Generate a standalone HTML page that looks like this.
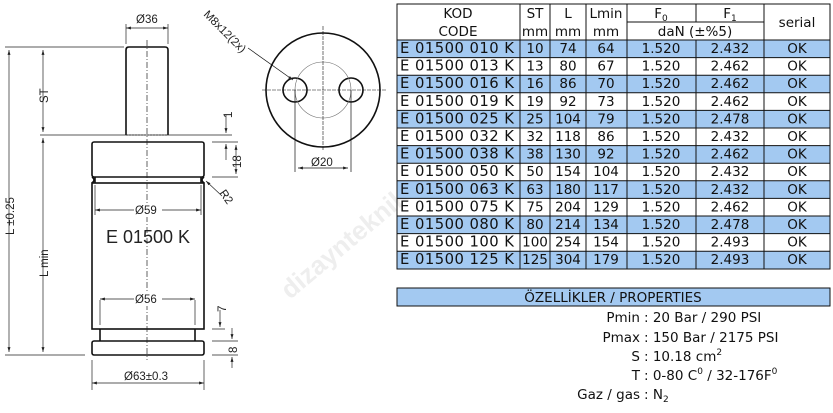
<!DOCTYPE html>
<html><head><meta charset="utf-8"><style>
html,body{margin:0;padding:0;background:#fff;width:833px;height:413px;overflow:hidden}
svg{display:block}
.t{font-family:"DejaVu Sans","Liberation Sans",sans-serif;font-size:13.5px;fill:#111}
.d{font-family:"Liberation Sans",sans-serif;font-size:11.5px;fill:#222}
.c{font-size:14.8px}
</style></head><body>
<svg width="833" height="413" viewBox="0 0 833 413" xmlns="http://www.w3.org/2000/svg">
<defs>
<marker id="a" viewBox="0 0 10 10" refX="10" refY="5" markerWidth="7" markerHeight="7" orient="auto-start-reverse"><path d="M0,2 L10,5 L0,8z" fill="#222"/></marker>
</defs>
<text x="290" y="300" transform="rotate(-40 290 300)" font-family="Liberation Sans,sans-serif" font-size="26" font-weight="bold" fill="#eee">dizaynteknik</text>

<g stroke="#111" fill="none" stroke-width="1.6">
<path d="M126,135 V50 q0,-3 3,-3 H165 q3,0 3,3 V135"/>
<rect x="92" y="142" width="112" height="35" rx="2"/>
<path d="M92,177 q4,3 0,6 M204,177 q-4,3 0,6"/>
<path d="M95,177 V183 M201,177 V183"/>
<rect x="92" y="183" width="112" height="146"/>
<path d="M100,329 V341 M195,329 V341"/>
<rect x="92" y="341" width="112" height="14" rx="2"/>
</g>
<g stroke="#222" stroke-width="0.7" fill="none">
<path d="M147,40 V360" stroke-dasharray="6,2,1,2"/>
<path d="M126,135 H168" stroke-dasharray="2,1"/>
<path d="M5,47 H124 M40,135 H232 M5,355 H85 M212,142 H238 M212,177 H238 M212,329 H225 M212,341 H238 M212,355 H238"/>
<path d="M126,24 V44 M168,24 V44 M92,360 V390 M204,360 V390"/>
<path d="M9,50 V352" marker-start="url(#a)" marker-end="url(#a)"/>
<path d="M43,50 V132" marker-start="url(#a)" marker-end="url(#a)"/>
<path d="M43,138 V352" marker-start="url(#a)" marker-end="url(#a)"/>
<path d="M126,28 H168" marker-start="url(#a)" marker-end="url(#a)"/>
<path d="M95,210 H201" marker-start="url(#a)" marker-end="url(#a)"/>
<path d="M100,299 H195" marker-start="url(#a)" marker-end="url(#a)"/>
<path d="M100,300 V325 M195,300 V325 M95,185 V215 M201,185 V215"/>
<path d="M92,383 H204" marker-start="url(#a)" marker-end="url(#a)"/>
<path d="M236,145 V174" marker-start="url(#a)" marker-end="url(#a)"/>
<path d="M226,115 V133" marker-end="url(#a)"/><path d="M226,160 V144" marker-end="url(#a)"/>
<path d="M220,310 V327" marker-end="url(#a)"/>
<path d="M232,328 V339" marker-end="url(#a)"/><path d="M232,368 V357" marker-end="url(#a)"/>
<path d="M222,196 L206,181" marker-end="url(#a)"/>
</g>
<g class="d">
<rect x="134" y="203" width="28" height="14" fill="#fff"/><text x="135" y="214">Ø59</text>
<rect x="134" y="292" width="28" height="14" fill="#fff"/><text x="135" y="303">Ø56</text>
<text x="136" y="23">Ø36</text>
<text x="124" y="380">Ø63±0.3</text>
<text x="106" y="243" font-size="18">E 01500 K</text>
<text transform="translate(48,103) rotate(-90)">ST</text>
<text transform="translate(14,235) rotate(-90)">L ±0.25</text>
<text transform="translate(48,277) rotate(-90)">L min</text>
<text transform="translate(232,118) rotate(-90)">1</text>
<text transform="translate(241,168) rotate(-90)">18</text>
<text transform="translate(226,312) rotate(-90)">7</text>
<text transform="translate(237,353) rotate(-90)">8</text>
<text transform="translate(219,193) rotate(55)">R2</text>
<text transform="translate(203,15) rotate(45)">M8x12(2x)</text>
<text x="311" y="166">Ø20</text>
</g>
<g fill="none" stroke="#111">
<circle cx="323" cy="90" r="57" stroke-width="1.6"/>
<circle cx="295" cy="90" r="12" stroke-width="1.6"/>
<circle cx="351" cy="90" r="12" stroke-width="1.6"/>
<circle cx="323" cy="90" r="28" stroke-width="0.6" stroke="#666"/>
<path d="M262,90 H386 M323,26 V150" stroke-width="0.6" stroke-dasharray="4,1"/>
<path d="M295,90 V172 M351,90 V172" stroke-width="0.7"/>
<path d="M298,168 H348" stroke-width="0.7" marker-start="url(#a)" marker-end="url(#a)"/>
<path d="M248,48 L293,80" stroke-width="0.7" marker-end="url(#a)"/>
</g>

<g fill="#a3c9f1">
<rect x="397" y="40" width="433" height="17.6"/><rect x="397" y="75.2" width="433" height="17.6"/>
<rect x="397" y="110.4" width="433" height="17.6"/><rect x="397" y="145.6" width="433" height="17.6"/>
<rect x="397" y="180.8" width="433" height="17.6"/><rect x="397" y="216" width="433" height="17.6"/>
<rect x="397" y="251.2" width="433" height="17.6"/>
<rect x="397" y="288" width="433" height="18"/>
</g>
<g stroke="#111" stroke-width="1" fill="none">
<rect x="397" y="4" width="433" height="265"/>
<rect x="397" y="288" width="433" height="18"/>
<path d="M520,4 V269 M550,4 V269 M586,4 V269 M627,4 V269 M764,4 V269 M696,4 V22 M696,40 V269 M627,22 H764 M397,40 H830"/>
<path d="M397,57.6 H830 M397,75.2 H830 M397,92.8 H830 M397,110.4 H830 M397,128 H830 M397,145.6 H830 M397,163.2 H830 M397,180.8 H830 M397,198.4 H830 M397,216 H830 M397,233.6 H830 M397,251.2 H830"/>
</g>
<g class="t" text-anchor="middle">
<text x="458" y="18">KOD</text><text x="458" y="36">CODE</text>
<text x="535" y="18">ST</text><text x="535" y="36">mm</text>
<text x="568" y="18">L</text><text x="568" y="36">mm</text>
<text x="606" y="18">Lmin</text><text x="606" y="36">mm</text>
<text x="661" y="18">F<tspan font-size="9" dy="3">0</tspan></text>
<text x="730" y="18">F<tspan font-size="9" dy="3">1</tspan></text>
<text x="695" y="36">daN (±%5)</text>
<text x="797" y="27">serial</text>
</g>
<g class="t">
<g class="c">
<text x="400" y="53" textLength="114">E 01500 010 K</text><text x="400" y="70.6" textLength="114">E 01500 013 K</text><text x="400" y="88.2" textLength="114">E 01500 016 K</text><text x="400" y="105.8" textLength="114">E 01500 019 K</text><text x="400" y="123.4" textLength="114">E 01500 025 K</text><text x="400" y="141" textLength="114">E 01500 032 K</text><text x="400" y="158.6" textLength="114">E 01500 038 K</text><text x="400" y="176.2" textLength="114">E 01500 050 K</text><text x="400" y="193.8" textLength="114">E 01500 063 K</text><text x="400" y="211.4" textLength="114">E 01500 075 K</text><text x="400" y="229" textLength="114">E 01500 080 K</text><text x="400" y="246.6" textLength="114">E 01500 100 K</text><text x="400" y="264.2" textLength="114">E 01500 125 K</text>
</g>
<g text-anchor="middle">
<text x="535" y="53">10</text><text x="535" y="70.6">13</text><text x="535" y="88.2">16</text><text x="535" y="105.8">19</text><text x="535" y="123.4">25</text><text x="535" y="141">32</text><text x="535" y="158.6">38</text><text x="535" y="176.2">50</text><text x="535" y="193.8">63</text><text x="535" y="211.4">75</text><text x="535" y="229">80</text><text x="535" y="246.6">100</text><text x="535" y="264.2">125</text>
<text x="568" y="53">74</text><text x="568" y="70.6">80</text><text x="568" y="88.2">86</text><text x="568" y="105.8">92</text><text x="568" y="123.4">104</text><text x="568" y="141">118</text><text x="568" y="158.6">130</text><text x="568" y="176.2">154</text><text x="568" y="193.8">180</text><text x="568" y="211.4">204</text><text x="568" y="229">214</text><text x="568" y="246.6">254</text><text x="568" y="264.2">304</text>
<text x="606" y="53">64</text><text x="606" y="70.6">67</text><text x="606" y="88.2">70</text><text x="606" y="105.8">73</text><text x="606" y="123.4">79</text><text x="606" y="141">86</text><text x="606" y="158.6">92</text><text x="606" y="176.2">104</text><text x="606" y="193.8">117</text><text x="606" y="211.4">129</text><text x="606" y="229">134</text><text x="606" y="246.6">154</text><text x="606" y="264.2">179</text>
<text x="661" y="53">1.520</text><text x="661" y="70.6">1.520</text><text x="661" y="88.2">1.520</text><text x="661" y="105.8">1.520</text><text x="661" y="123.4">1.520</text><text x="661" y="141">1.520</text><text x="661" y="158.6">1.520</text><text x="661" y="176.2">1.520</text><text x="661" y="193.8">1.520</text><text x="661" y="211.4">1.520</text><text x="661" y="229">1.520</text><text x="661" y="246.6">1.520</text><text x="661" y="264.2">1.520</text>
<text x="730" y="53">2.432</text><text x="730" y="70.6">2.462</text><text x="730" y="88.2">2.462</text><text x="730" y="105.8">2.462</text><text x="730" y="123.4">2.478</text><text x="730" y="141">2.432</text><text x="730" y="158.6">2.462</text><text x="730" y="176.2">2.432</text><text x="730" y="193.8">2.432</text><text x="730" y="211.4">2.462</text><text x="730" y="229">2.478</text><text x="730" y="246.6">2.493</text><text x="730" y="264.2">2.493</text>
<text x="797" y="53">OK</text><text x="797" y="70.6">OK</text><text x="797" y="88.2">OK</text><text x="797" y="105.8">OK</text><text x="797" y="123.4">OK</text><text x="797" y="141">OK</text><text x="797" y="158.6">OK</text><text x="797" y="176.2">OK</text><text x="797" y="193.8">OK</text><text x="797" y="211.4">OK</text><text x="797" y="229">OK</text><text x="797" y="246.6">OK</text><text x="797" y="264.2">OK</text>
<text x="613" y="302">ÖZELLİKLER / PROPERTIES</text>
</g>
<g text-anchor="end">
<text x="640" y="322">Pmin</text><text x="640" y="342">Pmax</text><text x="640" y="361">S</text><text x="640" y="380">T</text><text x="640" y="399">Gaz / gas</text>
</g>
<text x="644" y="322">: 20 Bar / 290 PSI</text>
<text x="644" y="342">: 150 Bar / 2175 PSI</text>
<text x="644" y="361">: 10.18 cm<tspan font-size="9" dy="-6">2</tspan></text>
<text x="644" y="380">: 0-80 C<tspan font-size="9" dy="-6">0</tspan><tspan dy="6"> / 32-176F</tspan><tspan font-size="9" dy="-6">0</tspan></text>
<text x="644" y="399">: N<tspan font-size="9" dy="3">2</tspan></text>
</g>
</svg>
</body></html>
